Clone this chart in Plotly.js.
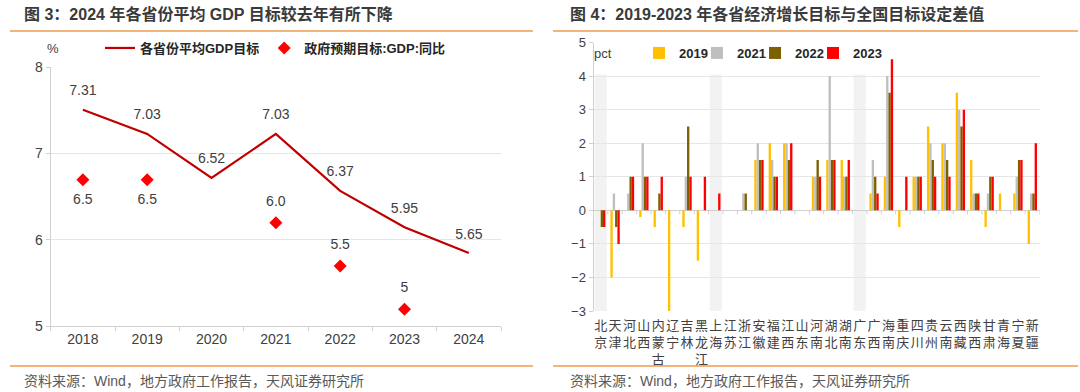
<!DOCTYPE html>
<html>
<head>
<meta charset="utf-8">
<script src="https://cdn.plot.ly/plotly-3.0.1.min.js"></script>
<style>
html,body{margin:0;padding:0;background:#fff;}
#chart{width:1080px;height:392px;}
</style>
</head>
<body>
<div id="chart"></div>
<script>
// ---------- Figure 3 data ----------
const years = ['2018', '2019', '2020', '2021', '2022', '2023', '2024'];
const provAvgTarget = [7.31, 7.03, 6.52, 7.03, 6.37, 5.95, 5.65];
const nationalTarget = [6.5, 6.5, null, 6.0, 5.5, 5.0, null];
const nationalLabels = ['6.5', '6.5', '', '6.0', '5.5', '5', ''];

// ---------- Figure 4 data ----------
const provinces = ['北京','天津','河北','山西','内蒙古','辽宁','吉林','黑龙江','上海','江苏','浙江','安徽','福建','江西','山东','河南','湖北','湖南','广东','广西','海南','重庆','四川','贵州','云南','西藏','陕西','甘肃','青海','宁夏','新疆'];
const diff2019 = [0, -2, 0, -0.2, -0.5, -3, -0.5, -1.5, 0, 0, 0, 1.5, 2, 2, 0, 1, 1.5, 1.5, 0, 0.5, 1, -0.5, 1, 2.5, 2, 3.5, 1.5, -0.5, 0.5, 0.5, -1];
const diff2021 = [0, 0.5, 0.5, 2, 0, 0, 1, 0, 0, 0, 0.5, 2, 1.5, 2, 0, 1, 4, 1, 0, 1.5, 4, 0, 1, 2, 2, 3, 0.5, 0.5, 0, 1, 0.5];
const diff2022 = [-0.5, -0.5, 1, 1, 0.5, 0, 2.5, 0, 0, 0, 0.5, 1.5, 1, 1.5, 0, 1.5, 1.5, 1, 0, 1, 3.5, 0, 1, 1.5, 1.5, 2.5, 0.5, 1, 0, 1.5, 0.5];
const diff2023 = [-0.5, -1, 1, 1, 1, 0, 1, 1, 0.5, 0, 0, 1.5, 1, 2, 0, 1, 1.5, 1.5, 0, 0.5, 4.5, 1, 1, 1, 1, 3, 0.5, 1, 0, 1.5, 2];
const seriesNames = ['2019', '2021', '2022', '2023'];
const highlighted = ['北京', '上海', '广东'];

// ---------- layout helpers ----------
const W = 1080, H = 392;
const px = v => v / W;
const py = v => 1 - v / H;
const FONT = '"Liberation Sans", Arial, "Noto Sans CJK SC", sans-serif';
const TXT = '#404040';
const GRID = '#E6E6E6';
const AXL = '#D0D0D0';
const ORANGE = '#EE9B52';

const seriesData = [diff2019, diff2021, diff2022, diff2023];
const seriesColors = ['#FFC000', '#BFBFBF', '#7F6000', '#FF0000'];

const traces = [];
// empty trace that anchors the visible left axes (x, y)
traces.push({type: 'scatter', mode: 'markers', x: [], y: [], xaxis: 'x', yaxis: 'y', showlegend: false, hoverinfo: 'skip'});
traces.push({
  type: 'scatter', mode: 'lines+markers+text', name: '各省份平均GDP目标',
  x: years, y: provAvgTarget, xaxis: 'x', yaxis: 'y2',
  line: {color: '#C00000', width: 2.2},
  marker: {size: 16, color: 'rgba(0,0,0,0)'},
  text: provAvgTarget.map(v => v.toFixed(2)), textposition: 'top center',
  textfont: {size: 14, color: TXT, family: FONT},
  legend: 'legend', cliponaxis: false
});
traces.push({
  type: 'scatter', mode: 'markers', name: '政府预期目标:GDP:同比',
  x: years, y: nationalTarget, xaxis: 'x', yaxis: 'y2',
  marker: {symbol: 'diamond', size: 10, color: '#FF0000'},
  legend: 'legend', cliponaxis: false
});
traces.push({
  type: 'scatter', mode: 'markers+text', name: 'labels', showlegend: false,
  x: years, y: nationalTarget, xaxis: 'x', yaxis: 'y2',
  marker: {size: 20, color: 'rgba(0,0,0,0)'},
  text: nationalLabels,
  textposition: nationalTarget.map((v, i) => i < 2 ? 'bottom center' : 'top center'),
  textfont: {size: 14, color: TXT, family: FONT},
  hoverinfo: 'skip', cliponaxis: false
});
seriesNames.forEach((n, k) => {
  traces.push({
    type: 'bar', name: n, x: provinces, y: seriesData[k],
    xaxis: 'x2', yaxis: 'y3', marker: {color: seriesColors[k]},
    legend: 'legend2'
  });
});
// blank spacer entry so the last legend label is not clipped
traces.push({type: 'scatter', mode: 'markers', name: ' ', x: [provinces[0]], y: [null], xaxis: 'x2', yaxis: 'y3',
  marker: {color: 'rgba(0,0,0,0)'}, legend: 'legend2', hoverinfo: 'skip'});

const lDom = [py(326), py(67)];
const rDom = [py(311), py(42.5)];
const yMin = -3, yMax = 5;

const shapes = [];
shapes.push({type: 'line', xref: 'paper', yref: 'paper', x0: px(10), x1: px(533), y0: py(31), y1: py(31), line: {color: ORANGE, width: 1.5}});
shapes.push({type: 'line', xref: 'paper', yref: 'paper', x0: px(553), x1: px(1078), y0: py(31), y1: py(31), line: {color: ORANGE, width: 1.5}});
shapes.push({type: 'line', xref: 'paper', yref: 'paper', x0: px(10), x1: px(533), y0: py(366), y1: py(366), line: {color: ORANGE, width: 1.5}});
shapes.push({type: 'line', xref: 'paper', yref: 'paper', x0: px(553), x1: px(1078), y0: py(366), y1: py(366), line: {color: ORANGE, width: 1.5}});
highlighted.forEach(p => {
  const i = provinces.indexOf(p);
  shapes.push({type: 'rect', xref: 'x2', yref: 'y3', x0: i - 0.42, x1: i + 0.42, y0: yMin, y1: 4.05,
    fillcolor: '#F2F2F2', line: {width: 0}, layer: 'below'});
});
for (let i = 0; i <= provinces.length; i++) {
  shapes.push({type: 'line', xref: 'x2', yref: 'y3', x0: i - 0.5, x1: i - 0.5,
    ysizemode: 'pixel', yanchor: 0, y0: 0, y1: -4, line: {color: AXL, width: 1}});
}

const annotations = [
  {text: '<b>图 3：2024 年各省份平均 GDP 目标较去年有所下降</b>', xref: 'paper', yref: 'paper', x: px(22), y: py(14), xanchor: 'left', yanchor: 'middle', showarrow: false, font: {size: 16, color: '#3A3A3A', family: FONT}},
  {text: '<b>图 4：2019-2023 年各省经济增长目标与全国目标设定差值</b>', xref: 'paper', yref: 'paper', x: px(568), y: py(14), xanchor: 'left', yanchor: 'middle', showarrow: false, font: {size: 16, color: '#3A3A3A', family: FONT}},
  {text: '资料来源：Wind，地方政府工作报告，天风证券研究所', xref: 'paper', yref: 'paper', x: px(22), y: py(381), xanchor: 'left', yanchor: 'middle', showarrow: false, font: {size: 14, color: '#595959', family: FONT}},
  {text: '资料来源：Wind，地方政府工作报告，天风证券研究所', xref: 'paper', yref: 'paper', x: px(568), y: py(381), xanchor: 'left', yanchor: 'middle', showarrow: false, font: {size: 14, color: '#595959', family: FONT}},
  {text: '%', xref: 'paper', yref: 'paper', x: px(53), y: py(48), xanchor: 'center', yanchor: 'middle', showarrow: false, font: {size: 13, color: TXT, family: FONT}},
  {text: 'pct', xref: 'paper', yref: 'paper', x: px(592), y: py(53), xanchor: 'left', yanchor: 'middle', showarrow: false, font: {size: 13, color: TXT, family: FONT}}
];

const layout = {
  width: W, height: H,
  margin: {l: 0, r: 0, t: 0, b: 0},
  paper_bgcolor: '#FFFFFF', plot_bgcolor: 'rgba(0,0,0,0)',
  font: {family: FONT, color: TXT},
  showlegend: true,
  barmode: 'group', bargap: 0.35, bargroupgap: 0,
  xaxis: {
    domain: [px(50.7), px(501)], anchor: 'y', type: 'category',
    categoryorder: 'array', categoryarray: years, range: [-0.5, years.length - 0.5],
    showline: true, linecolor: AXL, linewidth: 1,
    ticks: 'outside', tickson: 'boundaries', ticklen: 4, tickcolor: AXL,
    tickfont: {size: 14, color: TXT}, showgrid: false, fixedrange: true
  },
  yaxis: {
    domain: lDom, anchor: 'x', range: [5, 8], dtick: 1,
    showline: true, linecolor: AXL, ticks: 'outside', ticklen: 4, tickcolor: AXL,
    gridcolor: GRID, zeroline: false, tickfont: {size: 14, color: TXT}, fixedrange: true
  },
  yaxis2: {
    overlaying: 'y', anchor: 'x', domain: lDom, range: [4.805, 7.805],
    showticklabels: false, showgrid: false, showline: false, zeroline: false, ticks: '', fixedrange: true
  },
  xaxis2: {
    domain: [px(593.5), px(1039.5)], anchor: 'y3', type: 'category',
    categoryorder: 'array', categoryarray: provinces, range: [-0.5, provinces.length - 0.5],
    tickmode: 'array', tickvals: provinces, tickangle: 0,
    ticktext: provinces.map(p => p.split('').join('<br>')),
    showline: false, ticks: '', showgrid: false,
    tickfont: {size: 13, color: TXT}, ticklabelstandoff: 5, fixedrange: true
  },
  yaxis3: {
    domain: rDom, anchor: 'x2', range: [yMin, yMax], dtick: 1,
    showline: true, linecolor: AXL, ticks: 'outside', ticklen: 4, tickcolor: AXL,
    gridcolor: GRID, zeroline: true, zerolinecolor: AXL, zerolinewidth: 1,
    tickfont: {size: 13, color: TXT}, fixedrange: true
  },
  legend: {
    orientation: 'h', x: px(100), xanchor: 'left', y: py(48), yanchor: 'middle',
    bgcolor: 'rgba(0,0,0,0)', font: {size: 13, color: '#262626', weight: 'bold', family: FONT},
    itemclick: false, itemdoubleclick: false
  },
  legend2: {
    orientation: 'h', x: px(639), xanchor: 'left', y: py(53), yanchor: 'middle',
    bgcolor: 'rgba(0,0,0,0)', font: {size: 13, color: '#262626', weight: 'bold', family: FONT},
    entrywidth: 13, entrywidthmode: 'pixels',
    itemclick: false, itemdoubleclick: false
  },
  shapes: shapes,
  annotations: annotations
};

Plotly.newPlot('chart', traces, layout, {displayModeBar: false, staticPlot: true});
</script>
</body>
</html>
